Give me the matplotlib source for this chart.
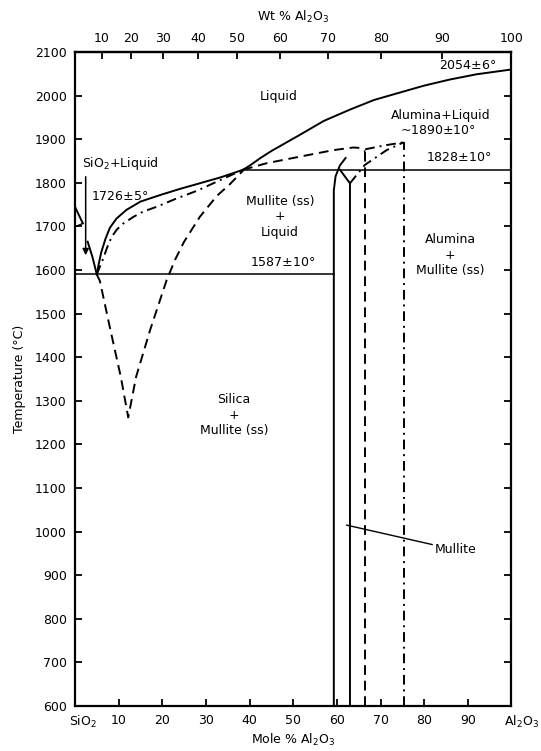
import matplotlib
matplotlib.use("Agg")
import matplotlib.pyplot as plt
from matplotlib.transforms import ScaledTranslation

plt.rcParams['font.family'] = ['DejaVu Sans']
plt.rcParams['mathtext.default'] = 'regular'

# --- data (mole % Al2O3, temperature °C) ---
# stable liquidus, silica side
liq_sio2_mol = [0, 1.8]
liq_sio2_T = [1745, 1707]
liq_sio2b_mol = [2.9, 4.0, 5.0]
liq_sio2b_T = [1665, 1630, 1590]
wedge_mol = [0, 1.8]
wedge_T = [1699, 1707]

# stable liquidus, mullite side (eutectic -> 1828 point)
liq_mul_mol = [5.0, 5.4, 6.0, 7.0, 8.0, 9.5, 11.8, 15.0, 19.5, 24.0, 28.6, 33.5, 38.5]
liq_mul_T = [1590, 1612, 1640, 1672, 1697, 1718, 1738, 1757, 1772, 1786, 1799, 1813, 1830]

# alumina liquidus
liq_al_mol = [38.5, 40.1, 42.5, 45.0, 51.5, 57.0, 63.0, 68.5, 74.4, 80.0, 85.9, 92.0, 100]
liq_al_T = [1830, 1840, 1857, 1873, 1910, 1942, 1968, 1990, 2007, 2023, 2037, 2049, 2060]

# metastable liquidus (dash-dot) from eutectic
meta_dd_mol = [5.0, 5.8, 6.5, 7.3, 8.4, 9.6, 11.1, 13.4, 15.6, 18.7, 23.0, 28.0, 33.0, 38.5]
meta_dd_T = [1590, 1610, 1627, 1650, 1676, 1693, 1707, 1722, 1734, 1745, 1763, 1782, 1805, 1830]

# metastable immiscibility dome (dashed V)
dome_mol = [5.0, 5.7, 8.0, 10.5, 12.2, 14.0, 17.2, 21.0, 23.0, 25.0, 28.6, 32.5, 35.5, 38.5]
dome_T = [1590, 1575, 1468, 1355, 1262, 1355, 1462, 1577, 1625, 1665, 1722, 1770, 1797, 1828]

# metastable liquidus (dashed) to metastable mullite melting
meta_d_mol = [38.5, 43.9, 51.5, 59.2, 63.7, 65.5, 66.5]
meta_d_T = [1830, 1845, 1860, 1875, 1881, 1880, 1872]

# dash-dot lines to ~1890 point
dd_up_mol = [66.5, 71.0, 75.3]
dd_up_T = [1877, 1886, 1893]
dd_low_mol = [63.0, 66.4, 71.4, 75.3]
dd_low_T = [1799, 1841, 1875, 1893]

# mullite boundaries
mul_left_mol = [59.3, 59.3, 59.3, 59.7, 60.7, 62.0]
mul_left_T = [600, 1587, 1783, 1815, 1840, 1857]
mul_right_mol = [63.0, 63.0, 60.7]
mul_right_T = [600, 1799, 1830]
mul_dash_mol = [66.5, 66.5]
mul_dash_T = [600, 1872]
mul_dd_mol = [75.3, 75.3]
mul_dd_T = [600, 1893]

# invariant lines
eut_mol = [0, 59.3]
eut_T = [1590, 1590]
per_mol = [38.5, 100]
per_T = [1830, 1830]

x_ticks = [0, 10, 20, 30, 40, 50, 60, 70, 80, 90, 100]
x_labels = ['SiO$_2$', '10', '20', '30', '40', '50', '60', '70', '80', '90', 'Al$_2$O$_3$']
wt_ticks = [10, 20, 30, 40, 50, 60, 70, 80, 90, 100]
y_ticks = list(range(600, 2101, 100))


def mol2wt(m):
    a = m * 101.96
    s = (100 - m) * 60.08
    return 100 * a / (a + s)


def wt2mol(w):
    a = w / 101.96
    s = (100 - w) / 60.08
    return 100 * a / (a + s)


fig = plt.figure(figsize=(5.41, 7.51), dpi=100)
ax = fig.add_axes([0.1386, 0.0599, 0.8068, 0.8708])

lw = 1.4
k = dict(color='black', lw=lw)
dash = (0, (5, 3))
dashdot = (0, (5, 2.5, 1, 2.5))

ax.plot(liq_sio2_mol, liq_sio2_T, **k)
ax.plot(liq_sio2b_mol, liq_sio2b_T, **k)
ax.plot(wedge_mol, wedge_T, color='black', lw=1.0)
ax.plot(liq_mul_mol, liq_mul_T, **k)
ax.plot(liq_al_mol, liq_al_T, **k)
ax.plot(meta_dd_mol, meta_dd_T, ls=dashdot, **k)
ax.plot(dome_mol, dome_T, ls=dash, **k)
ax.plot(meta_d_mol, meta_d_T, ls=dash, **k)
ax.plot(dd_up_mol, dd_up_T, ls=dashdot, **k)
ax.plot(dd_low_mol, dd_low_T, ls=dashdot, **k)
ax.plot(mul_left_mol, mul_left_T, **k)
ax.plot(mul_right_mol, mul_right_T, **k)
ax.plot(mul_dash_mol, mul_dash_T, ls=dash, **k)
ax.plot(mul_dd_mol, mul_dd_T, ls=dashdot, **k)
ax.plot(eut_mol, eut_T, color='black', lw=1.1)
ax.plot(per_mol, per_T, color='black', lw=1.1)

# arrow for silica melting point
ax.annotate('', xy=(2.45, 1634), xytext=(2.45, 1814),
            arrowprops=dict(arrowstyle='-|>', color='black', lw=1.1,
                            mutation_scale=9, shrinkA=0, shrinkB=0))

fs = 9
ax.text(1.5, 1845, 'SiO$_2$+Liquid', fontsize=fs, ha='left', va='center')
ax.text(3.6, 1768, '1726$\\pm$5°', fontsize=fs, ha='left', va='center')
ax.text(46.6, 1998, 'Liquid', fontsize=fs, ha='center', va='center')
ax.text(96.5, 2070, '2054$\\pm$6°', fontsize=fs, ha='right', va='center')
ax.text(83.8, 1955, 'Alumina+Liquid', fontsize=fs, ha='center', va='center')
ax.text(83.2, 1921, '~1890$\\pm$10°', fontsize=fs, ha='center', va='center')
ax.text(88.0, 1858, '1828$\\pm$10°', fontsize=fs, ha='center', va='center')
ax.text(47.0, 1722, 'Mullite (ss)\n+\nLiquid', fontsize=fs, ha='center', va='center',
        linespacing=1.25)
ax.text(47.5, 1618, '1587$\\pm$10°', fontsize=fs, ha='center', va='center')
ax.text(86.0, 1634, 'Alumina\n+\nMullite (ss)', fontsize=fs, ha='center', va='center',
        linespacing=1.25)
ax.text(36.4, 1267, 'Silica\n+\nMullite (ss)', fontsize=fs, ha='center', va='center',
        linespacing=1.25)
ax.annotate('Mullite', xy=(62.2, 1015), xytext=(82.5, 958), fontsize=fs,
            ha='left', va='center',
            arrowprops=dict(arrowstyle='-', color='black', lw=1.0,
                            shrinkA=0, shrinkB=0))

ax.set_xlim(0, 100)
ax.set_ylim(600, 2100)
ax.set_xticks(x_ticks)
ax.set_xticklabels(x_labels)
ax.set_yticks(y_ticks)
ax.tick_params(direction='in', length=5, width=1.3, labelsize=9,
               right=True, top=False, pad=6)
for s in ax.spines.values():
    s.set_linewidth(1.6)

labels = ax.get_xticklabels()
labels[0].set_transform(labels[0].get_transform() + ScaledTranslation(8 / 100, 0, fig.dpi_scale_trans))
labels[-1].set_transform(labels[-1].get_transform() + ScaledTranslation(10 / 100, 0, fig.dpi_scale_trans))

ax.set_xlabel('Mole % Al$_2$O$_3$', fontsize=9, labelpad=1)
ax.set_ylabel('Temperature (°C)', fontsize=9, labelpad=6)

top = ax.secondary_xaxis('top', functions=(mol2wt, wt2mol))
top.set_xticks(wt_ticks)
top.tick_params(direction='in', length=5, width=1.3, labelsize=9, pad=5)
top.spines['top'].set_linewidth(1.6)
top.set_xlabel('Wt % Al$_2$O$_3$', fontsize=9, labelpad=8)

fig.savefig('out.png', dpi=100)
